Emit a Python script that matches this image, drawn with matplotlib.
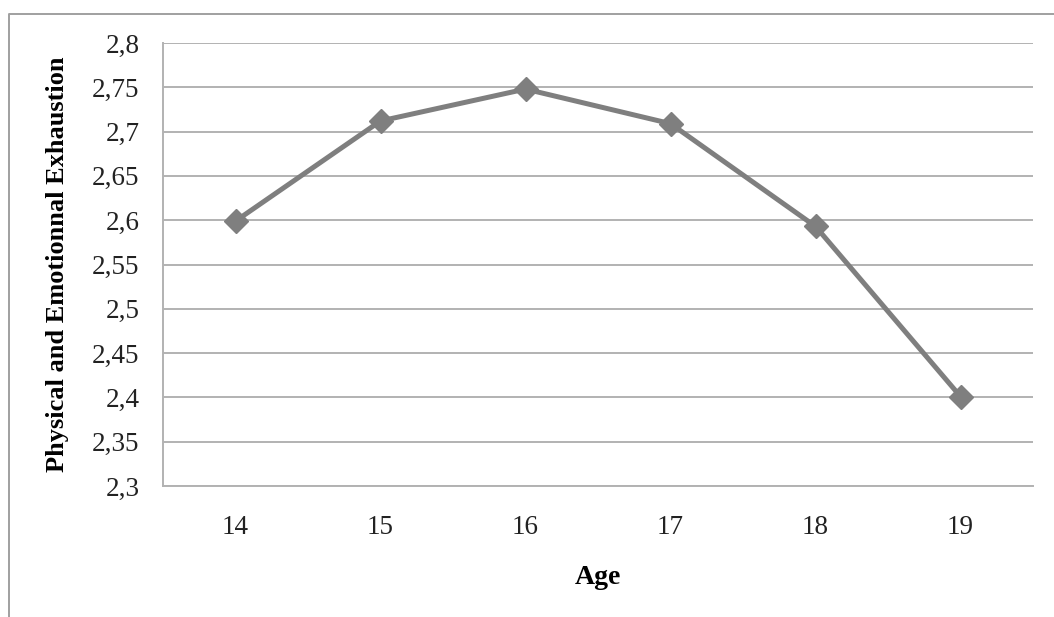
import matplotlib
matplotlib.use("Agg")
import matplotlib.pyplot as plt
from matplotlib.lines import Line2D

ages = [14, 15, 16, 17, 18, 19]
exhaustion = [2.599, 2.712, 2.748, 2.709, 2.593, 2.401]
yticks = [2.3, 2.35, 2.4, 2.45, 2.5, 2.55, 2.6, 2.65, 2.7, 2.75, 2.8]
ytick_labels = ["2,3", "2,35", "2,4", "2,45", "2,5", "2,55", "2,6", "2,65", "2,7", "2,75", "2,8"]

plt.rcParams["font.family"] = ["Liberation Serif", "DejaVu Serif"]

fig = plt.figure(figsize=(10.54, 6.17), dpi=100)
ax = fig.add_axes([163/1054, 1-486/617, (1033-163)/1054, (486-43)/617])

grid_col = "#b2b2b2"
ax.set_ylim(2.3, 2.8)
ax.set_xlim(13.5, 19.5)
ax.set_yticks(yticks)
ax.set_yticklabels(ytick_labels)
ax.set_xticks(ages)
ax.set_xticklabels([str(a) for a in ages])
ax.yaxis.grid(True, color=grid_col, linewidth=1.4)
ax.set_axisbelow(True)
ax.tick_params(length=0, labelsize=19.5, colors="#222222")
ax.tick_params(axis="y", pad=17)
ax.tick_params(axis="x", pad=21)
for s in ["top", "right"]:
    ax.spines[s].set_visible(False)
for s in ["left", "bottom"]:
    ax.spines[s].set_color(grid_col)
    ax.spines[s].set_linewidth(1.4)

ax.plot(ages, exhaustion, color="#7f7f7f", linewidth=3.6, marker="D", markersize=12)

ax.set_xlabel("Age", fontsize=20, fontweight="bold", va="center")
ax.xaxis.set_label_coords(0.5, (486-578)/443)
ax.set_ylabel("Physical and Emotionnal Exhaustion", fontsize=19, fontweight="bold", va="center")
ax.yaxis.set_label_coords((58-163)/870, 0.5)

# outer chart border
fig.add_artist(Line2D([9/1054, 9/1054, 1.0], [0.0, 1-14/617, 1-14/617],
                      transform=fig.transFigure, color="#a0a0a0", linewidth=1.4))

fig.savefig("out.png", dpi=100)
